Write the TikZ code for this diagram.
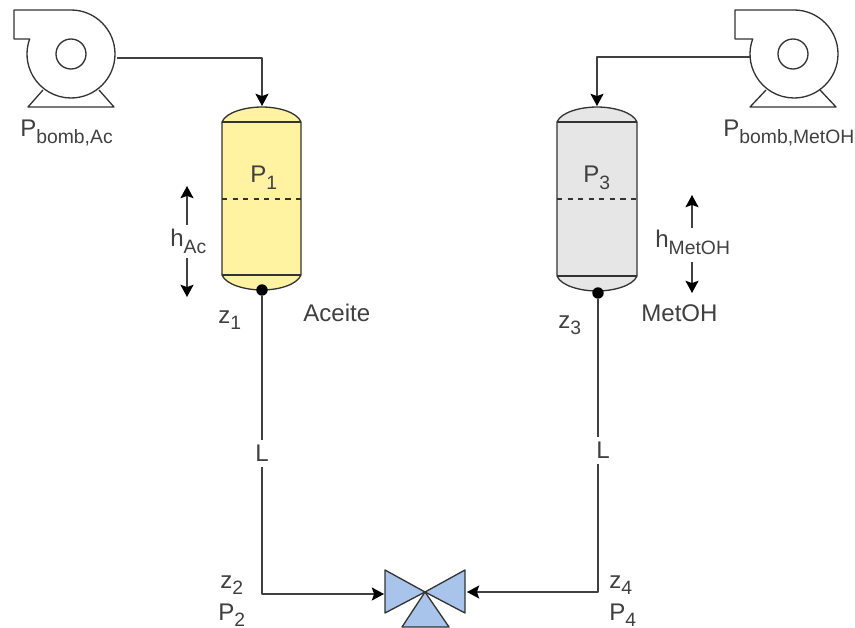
\documentclass[tikz,border=0pt]{standalone}
\usepackage{fontspec}
\setmainfont{Liberation Sans}
\usetikzlibrary{arrows.meta}
\definecolor{oilyellow}{HTML}{FFF2A1}
\definecolor{methgray}{HTML}{E6E6E6}
\definecolor{valveblue}{HTML}{A9C4EB}
\newcommand{\lowtext}[1]{\raisebox{-3.7pt}{\fontsize{11}{12}\selectfont #1}}
\tikzset{
  pipe/.style={draw=black!75, line width=0.75pt},
  flow/.style={pipe, -{Stealth[length=7pt,width=7.5pt,inset=1.4pt,color=black]}},
  outline/.style={draw=black!80, line width=0.75pt},
  valvepart/.style={outline, fill=valveblue},
  tag/.style={font=\fontsize{13.7}{15}\selectfont, text=black!75, inner sep=0pt, anchor=base west},
  gaptag/.style={font=\fontsize{13.7}{15}\selectfont, text=black!75, inner sep=0pt, fill=white, minimum height=0.54cm, minimum width=0.28cm},
  knob/.style={circle, fill=black, inner sep=0pt, minimum size=6.5pt},
}
\begin{document}
\begin{tikzpicture}[x=0.02cm, y=-0.02cm, line join=round]
\useasboundingbox (0,0) rectangle (855,628);
% pumps
\draw[outline] (14,10) -- (71,10) arc[start angle=-90, end angle=200, radius=44] -- (14,39) -- cycle;
\draw[outline] (71,54) circle[radius=15];
\draw[outline] (43,90) -- (28,107) -- (114,107) -- (99,90);
\draw[outline] (735,10) -- (794,10) arc[start angle=-90, end angle=200, radius=44] -- (735,39) -- cycle;
\draw[outline] (793,54) circle[radius=15];
\draw[outline] (766,90) -- (750,107) -- (836,107) -- (820,90);
% tanks
\draw[outline, fill=oilyellow] (222,122) .. controls (226,112) and (246,107) .. (262,107) .. controls (278,107) and (297,112) .. (301,122) -- (301,275) .. controls (297,285) and (278,290) .. (262,290) .. controls (246,290) and (226,285) .. (222,275) -- cycle;
\draw[outline] (222,122) -- (301,122);
\draw[outline] (222,275) -- (301,275);
\draw[outline, dashed] (222,199) -- (301,199);
\draw[outline, fill=methgray] (557,122) .. controls (561,112) and (581,107) .. (597,107) .. controls (613,107) and (633,112) .. (637,122) -- (637,276) .. controls (633,286) and (613,291) .. (597,291) .. controls (581,291) and (561,286) .. (557,276) -- cycle;
\draw[outline] (557,122) -- (637,122);
\draw[outline] (557,276) -- (637,276);
\draw[outline, dashed] (557,199) -- (637,199);
% valve
\coordinate (V) at (425,592);
\draw[valvepart] (V) -- (385,570) -- (385,613) -- cycle;
\draw[valvepart] (V) -- (465,570) -- (465,613) -- cycle;
\draw[valvepart] (V) -- (402,627) -- (449,627) -- cycle;
% free ends of the pipes
\coordinate (PumpA) at (117,58);
\coordinate (PumpB) at (750,57);
\coordinate (TopA) at (262,106);
\coordinate (TopB) at (597,106);
\coordinate (InA) at (384,594);
\coordinate (InB) at (467,592);
\node[knob] (KnobA) at (262,290) {};
\node[knob] (KnobB) at (598,293) {};
\draw[flow] (PumpA) -| (TopA);
\draw[flow] (PumpB) -| (TopB);
\draw[flow] (KnobA) |- (InA);
\draw[flow] (KnobB) |- (InB);
\node[gaptag] (LengthA) at (262,453) {L};
\node[gaptag] (LengthB) at (603,450) {L};
% level arrows
\coordinate (UpA0) at (187,225);
\coordinate (UpA1) at (187,186);
\coordinate (DownA0) at (187,258);
\coordinate (DownA1) at (187,297);
\coordinate (UpB0) at (692,228);
\coordinate (UpB1) at (692,195);
\coordinate (DownB0) at (692,262);
\coordinate (DownB1) at (692,293);
\draw[flow] (UpA0) -- (UpA1);
\draw[flow] (DownA0) -- (DownA1);
\draw[flow] (UpB0) -- (UpB1);
\draw[flow] (DownB0) -- (DownB1);
% labels
\node[tag] (BombA) at (20,137) {P\lowtext{bomb,Ac}};
\node[tag] (BombB) at (723,137) {P\lowtext{bomb,MetOH}};
\node[tag] (P1) at (250,183) {P\lowtext{1}};
\node[tag] (P3) at (583,183) {P\lowtext{3}};
\node[tag] (LevelA) at (170,247) {h\lowtext{Ac}};
\node[tag] (LevelB) at (655,248) {h\lowtext{MetOH}};
\node[tag] (z1) at (218,323) {z\lowtext{1}};
\node[tag] (z3) at (558,328) {z\lowtext{3}};
\node[tag] (Oil) at (303,321) {Aceite};
\node[tag] (Meth) at (641,321) {MetOH};
\node[tag] (z2) at (220,588) {z\lowtext{2}};
\node[tag] (P2) at (218,620) {P\lowtext{2}};
\node[tag] (z4) at (609,588) {z\lowtext{4}};
\node[tag] (P4) at (609,620) {P\lowtext{4}};
\end{tikzpicture}
\end{document}
